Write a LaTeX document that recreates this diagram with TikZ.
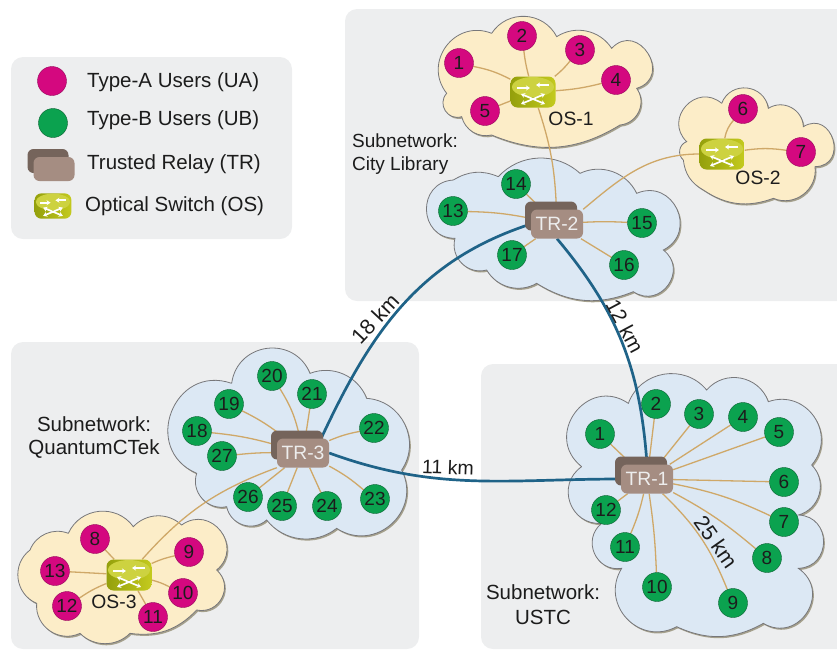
\documentclass[tikz,border=0pt]{standalone}
\usepackage{fontspec}
\setmainfont{Liberation Sans}
\usetikzlibrary{shadows,arrows.meta}
\definecolor{panel}{HTML}{EDEEEF}
\definecolor{cblue}{HTML}{DCE8F4}
\definecolor{cyel}{HTML}{FCEDC8}
\definecolor{cedge}{HTML}{77777A}
\definecolor{cshad}{HTML}{A5A08C}
\definecolor{magU}{HTML}{D4087F}
\definecolor{grnU}{HTML}{0BA24F}
\definecolor{tan}{HTML}{CFA868}
\definecolor{fibre}{HTML}{1F6388}
\definecolor{trfront}{HTML}{A58D82}
\definecolor{trback}{HTML}{75645B}
\definecolor{osL}{HTML}{94A00C}
\definecolor{osR}{HTML}{C4CA1E}
\definecolor{ink}{HTML}{1C1C1C}
\pgfdeclarelayer{back}
\pgfdeclarelayer{mid}
\pgfsetlayers{back,mid,main}
\newcommand\txtsize{\fontsize{20.5}{23}\selectfont}
\newcommand\smallsize{\fontsize{19.3}{22}\selectfont}
\newcommand\numsize{\fontsize{19}{20}\selectfont}
\newcommand\osicon[1]{%
  \begin{scope}[shift={(path picture bounding box.center)},x=#1pt,y=#1pt]
    \fill[osR!85!white] (0,5) ellipse (21 and 10);
    \draw[white,line width=1.7pt,-{Stealth[length=4pt,width=5pt]}] (-16,4)--(-3,4);
    \draw[white,line width=1.7pt,-{Stealth[length=4pt,width=5pt]}] (16,7)--(3,7);
    \draw[white,line width=1.7pt,{Stealth[length=4pt,width=5pt]}-{Stealth[length=4pt,width=5pt]}] (-12,-12)--(12,-2);
    \draw[white,line width=1.7pt,{Stealth[length=4pt,width=5pt]}-{Stealth[length=4pt,width=5pt]}] (-12,-2)--(12,-12);
  \end{scope}}
\newcommand\drawcloud[2]{%
  \fill[cshad,xshift=1.3pt,yshift=-1.6pt] #2;
  \draw[cedge,line width=.8pt,fill=#1] #2;}
\tikzset{
  panelbox/.style={fill=panel,draw=none,rounded corners=12pt},
  ua/.style={circle,fill=magU,draw=magU!70!black,line width=.4pt,minimum size=29pt,inner sep=0pt,font=\numsize,text=ink},
  ub/.style={circle,fill=grnU,draw=grnU!60!black,line width=.4pt,minimum size=29pt,inner sep=0pt,font=\numsize,text=ink},
  trbox/.style={rounded corners=6pt,fill=trfront,inner sep=0pt,minimum width=52pt,minimum height=29pt,font=\smallsize,text=white!93!black,
    general shadow={fill=trback,shadow xshift=-6pt,shadow yshift=8pt}},
  osbox/.style={rounded corners=7pt,left color=osL,right color=osR,draw=none,inner sep=0pt,minimum width=#1*45pt,minimum height=#1*31pt,
    path picture={\osicon{#1}}},
  lab/.style={font=\txtsize,text=ink,inner sep=0pt},
  link/.style={draw=tan,line width=1.3pt},
  fib/.style={draw=fibre,line width=2.7pt},
  vf/.style={bend left=27},
  fl/.style={bend left=45},
  gl/.style={bend left=60,looseness=1.13},
  lb/.style={bend left=75,looseness=1.35},
  lc/.style={bend left=88,looseness=1.62},
  ld/.style={bend left=105,looseness=2.1},
  zoomA/.style={shift={(420,0)},x=.33333pt,y=-.33333pt},
  zoomB/.style={shift={(0,340)},x=.33333pt,y=-.33333pt},
  zoomC/.style={shift={(480,360)},x=.33333pt,y=-.33333pt},
}
\begin{document}
\begin{tikzpicture}[x=1pt,y=-1pt]
\useasboundingbox (0,0) rectangle (837,649);
\begin{pgfonlayer}{back}
  \fill[panelbox] (345,9) rectangle (850,301);
  \fill[panelbox] (11,342) rectangle (419,649);
  \fill[panelbox] (481,364) rectangle (850,649);
  \fill[panelbox] (11,57) rectangle (292,239);
  \begin{scope}[zoomA]
    \drawcloud{cyel}{(215,100) to[gl] (410,110) to[fl] (575,145) to[ld] (650,265) to[gl] (600,375) to[vf] (215,405) to[fl] (125,350) to[lb] (80,280) to[lb] (215,100)}
    \drawcloud{cyel}{(905,310) to[lb] (1045,325) to[gl] (1150,380) to[ld] (1185,500) to[gl] (1060,595) to[vf] (850,570) to[vf] (790,480) to[gl] (800,425) to[lc] (905,310)}
    \drawcloud{cblue}{(235,530) to[fl] (480,520) to[fl] (650,580) to[lc] (730,750) to[lc] (640,875) to[vf] (350,850) to[fl] (200,810) to[gl] (105,715) to[lc] (100,540) to[vf] (235,530)}
  \end{scope}
  \begin{scope}[zoomB]
    \drawcloud{cblue}{(695,130) to[lb] (930,100) to[fl] (1100,175) to[gl] (1205,390) to[lb] (1010,565) to[fl] (800,540) to[gl] (680,500) to[gl] (590,400) to[lc] (695,130)}
    \drawcloud{cyel}{(205,580) to[gl] (400,560) to[fl] (545,555) to[lc] (650,690) to[lb] (590,810) to[vf] (390,880) to[fl] (240,880) to[gl] (110,790) to[gl] (90,630) to[fl] (205,580)}
  \end{scope}
  \begin{scope}[zoomC]
    \drawcloud{cblue}{(305,320) to[lc] (445,130) to[gl] (680,90) to[gl] (865,125) to[lb] (995,315) to[gl] (955,465) to[lc] (955,625) to[lc] (850,790) to[vf] (590,800) to[lb] (425,625) to[lb] (365,490) to[lb] (305,320)}
  \end{scope}
\end{pgfonlayer}

% legend
\node[ua] (legA) at (52,81) {};
\node[ub] (legB) at (53,123) {};
\node[trbox,minimum width=41pt,minimum height=24pt] (legT) at (54,169) {};
\node[osbox=.82] (legO) at (53,206) {};
\node[lab,anchor=west] (tA) at (87,82.5) {Type-A Users (UA)};
\node[lab,anchor=west] (tB) at (87,120.5) {Type-B Users (UB)};
\node[lab,anchor=west] (tT) at (87,164.5) {Trusted Relay (TR)};
\node[lab,anchor=west] (tO) at (85,206.5) {Optical Switch (OS)};

% subnet labels
\node[lab,anchor=west,font=\fontsize{19}{22}\selectfont] (sA) at (352,141) {Subnetwork:};
\node[lab,anchor=west,font=\fontsize{19}{22}\selectfont] (sB) at (352,166) {City Library};
\node[lab] (sC) at (94,424) {Subnetwork:};
\node[lab] (sD) at (94,449) {QuantumCTek};
\node[lab] (sE) at (543,592) {Subnetwork:};
\node[lab] (sF) at (543,617) {USTC};

% relays and switches
\node[trbox] (TR1) at (647,479) {TR-1};
\node[trbox] (TR2) at (557,224) {TR-2};
\node[trbox] (TR3) at (303,453) {TR-3};
\node[osbox=1] (OS1) at (533,92) {};
\node[osbox=1] (OS2) at (722,154) {};
\node[osbox=1] (OS3) at (129,575) {};
\node[lab,font=\smallsize] (lOS1) at (571,119) {OS-1};
\node[lab,font=\smallsize] (lOS2) at (758,178) {OS-2};
\node[lab,font=\smallsize] (lOS3) at (114,602) {OS-3};

% UA around OS-1, OS-2, OS-3
\foreach \n/\x/\y in {1/459/63,2/522/36,3/580/50,4/616/80,5/485/111,6/743/109,7/801/152,8/95/539,9/189/552,10/183/593,11/153/617,12/67/606,13/55/571}
  \node[ua] (a\n) at (\x,\y) {\n};
% UB around TR-1, TR-2, TR-3
\foreach \n/\x/\y in {1/600/434,2/656/404,3/699/414,4/743/417,5/779/432,6/784/482,7/784/522,8/767/558,9/733/603,10/657/587,11/625/547,12/606/510,13/453/211,14/516/184,15/642/223,16/624/265,17/512/255,18/197/431,19/229/404,20/272/376,21/312/394,22/374/428,23/375/499,24/327/506,25/282/506,26/248/497,27/222/456}
  \node[ub] (b\n) at (\x,\y) {\n};

\begin{pgfonlayer}{mid}
  % OS spokes
  \draw[link] (OS1) to[bend right=8] (a1);
  \draw[link] (OS1) to[bend left=4] (a2);
  \draw[link] (OS1) to[bend right=6] (a3);
  \draw[link] (OS1) to[bend right=5] (a4);
  \draw[link] (OS1) -- (a5);
  \draw[link] (OS2) to[bend left=15] (a6);
  \draw[link] (OS2) to[bend left=8] (a7);
  \draw[link] (OS3) -- (a8);
  \draw[link] (OS3) to[bend left=6] (a9);
  \draw[link] (OS3) to[bend left=6] (a10);
  \draw[link] (OS3) -- (a11);
  \draw[link] (OS3) to[bend right=6] (a12);
  \draw[link] (OS3) -- (a13);
  % uplinks
  \draw[link] (OS1) to[bend left=8] (TR2);
  \draw[link] (TR2.north east) to[out=40,in=180] (OS2.west);
  \draw[link] (OS3) to[bend left=14] (TR3.south west);
  % TR-1 spokes
  \draw[link] (TR1) -- (b1);
  \draw[link] (TR1) -- (b2);
  \draw[link] (TR1) -- (b3);
  \draw[link] (TR1) -- (b4);
  \draw[link] (TR1) -- (b5);
  \draw[link] (TR1) -- (b6);
  \draw[link] (TR1) to[bend left=7] (b7);
  \draw[link] (TR1) to[bend left=6] (b8);
  \draw[link] (TR1) to[bend left=12] (b9);
  \draw[link] (TR1) to[bend left=3] (b10);
  \draw[link] (TR1) to[bend left=5] (b11);
  \draw[link] (TR1) -- (b12);
  % TR-2 spokes
  \draw[link] (TR2) to[bend right=5] (b13);
  \draw[link] (TR2) -- (b14);
  \draw[link] (TR2) to[bend left=3] (b15);
  \draw[link] (TR2) -- (b16);
  \draw[link] (TR2) -- (b17);
  % TR-3 spokes
  \draw[link] (TR3) to[bend right=5] (b18);
  \draw[link] (TR3) to[bend right=6] (b19);
  \draw[link] (TR3) to[bend right=10] (b20);
  \draw[link] (TR3) -- (b21);
  \draw[link] (TR3) to[bend left=6] (b22);
  \draw[link] (TR3) to[bend left=6] (b23);
  \draw[link] (TR3) -- (b24);
  \draw[link] (TR3) -- (b25);
  \draw[link] (TR3) -- (b26);
  \draw[link] (TR3) to[bend right=3] (b27);
  % fibres between relays
  \draw[fib] ([xshift=-8pt]TR3.north east) to[out=65,in=198] (TR2.west);
  \draw[fib] (TR2.south) to[out=-50,in=94] (TR1.north);
  \draw[fib] (TR3.east) to[out=-20,in=180] (TR1.west);
\end{pgfonlayer}

% distances
\node[lab,rotate=47,font=\fontsize{21.5}{24}\selectfont] (d18) at (375,319) {18 km};
\node[lab,rotate=-62,font=\fontsize{20.8}{24}\selectfont] (d12) at (625,326) {12 km};
\node[lab,rotate=-2,font=\fontsize{19.5}{22}\selectfont] (d11) at (448,467) {11 km};
\node[lab,rotate=-55,font=\fontsize{21.5}{24}\selectfont] (d25) at (716,542) {25 km};
\end{tikzpicture}
\end{document}
